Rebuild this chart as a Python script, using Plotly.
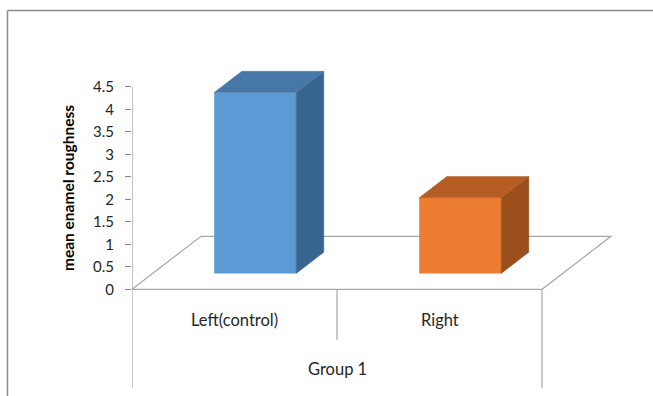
import plotly.graph_objects as go

# Chart data
categories = ["Left(control)", "Right"]
values = [4.02, 1.68]
group_label = "Group 1"
y_title = "mean enamel roughness"
tick_vals = [0, 0.5, 1, 1.5, 2, 2.5, 3, 3.5, 4, 4.5]
tick_text = ["0", "0.5", "1", "1.5", "2", "2.5", "3", "3.5", "4", "4.5"]

front_colors = ["#5b9bd5", "#ed7d31"]
top_colors = ["#4677a6", "#b55d22"]
side_colors = ["#386490", "#9a4f1d"]

# Page geometry (pixels)
W_PAGE, H_PAGE = 653, 396
M_L, M_R, M_T, M_B = 132, 13, 40, 0
PX_PER_CAT = 205.0          # horizontal pixels per category
PX_PER_UNIT = 45.0          # vertical pixels per value unit
ZERO_PX = 289.3             # pixel row of value 0 on the front edge

plot_w = W_PAGE - M_L - M_R
plot_h = H_PAGE - M_T - M_B
x_lo = -0.5
x_hi = x_lo + plot_w / PX_PER_CAT
y_hi = (ZERO_PX - M_T) / PX_PER_UNIT
y_lo = y_hi - plot_h / PX_PER_UNIT

# Oblique depth vector of the floor, in data units
DEPTH_X = 69 / PX_PER_CAT
DEPTH_Y = 53 / PX_PER_UNIT
BAR_W = 0.4                 # bar width (category units) and depth fraction
BAR_FRONT = 0.3             # depth fraction of the bar front faces


def py(px_row):
    """Pixel row -> value units."""
    return (ZERO_PX - px_row) / PX_PER_UNIT


def paper_x(px):
    return (px - M_L) / plot_w


def paper_y(px_row):
    return (H_PAGE - M_B - px_row) / plot_h


grid = "#a6a6a6"
fig = go.Figure()

n = len(categories)
fx0, fx1 = -0.5, n - 0.5

# Bars: front face via go.Bar, top and side faces as filled polygons
for i, (cat, v) in enumerate(zip(categories, values)):
    cx = i + BAR_FRONT * DEPTH_X
    yb = BAR_FRONT * DEPTH_Y
    xl, xr = cx - BAR_W / 2, cx + BAR_W / 2
    yt = yb + v
    dx, dy = BAR_W * DEPTH_X, BAR_W * DEPTH_Y
    fig.add_trace(go.Scatter(
        x=[xr, xr, xr + dx, xr + dx, xr],
        y=[yb, yt, yt + dy, yb + dy, yb],
        fill="toself", fillcolor=side_colors[i], mode="lines",
        line=dict(color=side_colors[i], width=0.5), hoverinfo="skip"))
    fig.add_trace(go.Scatter(
        x=[xl, xr, xr + dx, xl + dx, xl],
        y=[yt, yt, yt + dy, yt + dy, yt],
        fill="toself", fillcolor=top_colors[i], mode="lines",
        line=dict(color=top_colors[i], width=0.5), hoverinfo="skip"))
    fig.add_trace(go.Bar(
        x=[cx], y=[v], base=[yb], width=[BAR_W],
        marker=dict(color=front_colors[i], line=dict(width=0)),
        hoverinfo="skip"))

# Floor outline, kept beneath the bars
floor_path = "M {} 0 L {} {} L {} {} L {} 0 Z".format(
    fx0, fx0 + DEPTH_X, DEPTH_Y, fx1 + DEPTH_X, DEPTH_Y, fx1)
shapes = [dict(type="path", xref="x", yref="y", path=floor_path, layer="below",
               line=dict(color=grid, width=1.2))]

# Value axis line and category table below the floor
low = py(388)
mid = py(340)
shapes += [
    dict(type="line", xref="x", yref="y", x0=fx0, x1=fx0, y0=0, y1=max(tick_vals),
         line=dict(color="#868686", width=1)),
    dict(type="line", xref="x", yref="y", x0=fx0, x1=fx0, y0=0, y1=low,
         line=dict(color=grid, width=1.2)),
    dict(type="line", xref="x", yref="y", x0=fx1, x1=fx1, y0=0, y1=low,
         line=dict(color=grid, width=1.2)),
]
for k in range(1, n):
    shapes.append(dict(type="line", xref="x", yref="y", x0=k - 0.5, x1=k - 0.5,
                       y0=0, y1=mid, line=dict(color=grid, width=1.2)))

# Outer chart frame
frame_col = "#8c8c8c"
shapes.append(dict(type="line", xref="paper", yref="paper",
                   x0=paper_x(7.5), x1=paper_x(660), y0=paper_y(10.5), y1=paper_y(10.5),
                   line=dict(color=frame_col, width=1.5)))
shapes.append(dict(type="line", xref="paper", yref="paper",
                   x0=paper_x(7.5), x1=paper_x(7.5), y0=paper_y(10.5), y1=paper_y(400),
                   line=dict(color=frame_col, width=1.5)))

font_family = "Lato, 'Open Sans', sans-serif"
annotations = []
for i, cat in enumerate(categories):
    annotations.append(dict(x=i, y=py(320), xref="x", yref="y", text=cat,
                            showarrow=False, font=dict(size=16.5, color="#262626")))
annotations.append(dict(x=(n - 1) / 2, y=py(369), xref="x", yref="y",
                        text=group_label, showarrow=False,
                        font=dict(size=16.5, color="#262626")))
annotations.append(dict(x=paper_x(57), y=max(tick_vals) / 2, xref="paper", yref="y",
                        text="<b>" + y_title + "</b>", textangle=-90,
                        showarrow=False, font=dict(size=15.5, color="#000000")))

fig.update_layout(
    width=W_PAGE, height=H_PAGE,
    margin=dict(l=M_L, r=M_R, t=M_T, b=M_B),
    paper_bgcolor="white", plot_bgcolor="rgba(0,0,0,0)",
    showlegend=False, hovermode=False, barmode="overlay",
    font=dict(family=font_family),
    shapes=shapes, annotations=annotations,
    xaxis=dict(range=[x_lo, x_hi], visible=False, fixedrange=True),
    yaxis=dict(range=[y_lo, y_hi], showgrid=False, zeroline=False, showline=False,
               tickmode="array", tickvals=tick_vals, ticktext=tick_text,
               ticks="outside", ticklen=6, tickcolor="#868686", tickwidth=1,
               ticklabelstandoff=8,
               tickfont=dict(size=15, color="#262626", family=font_family),
               automargin=False, fixedrange=True),
)

fig.write_html("out.html", config={"displayModeBar": False})
